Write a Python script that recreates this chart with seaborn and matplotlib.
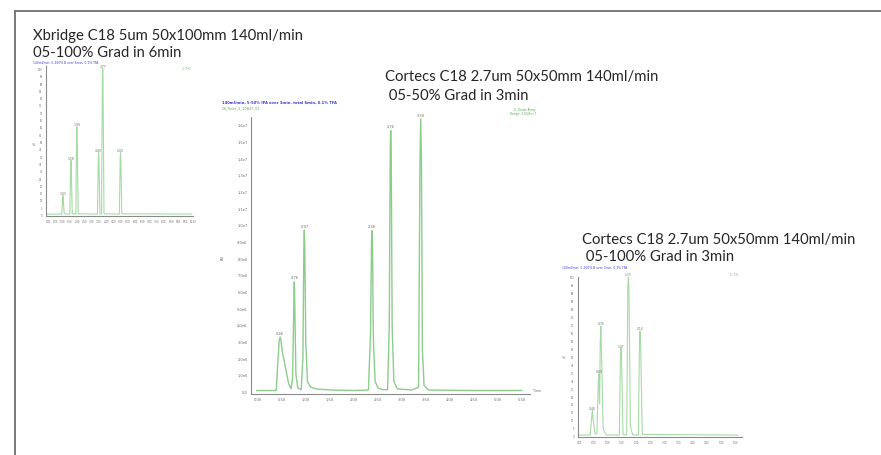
import matplotlib
matplotlib.use("Agg")
import matplotlib.pyplot as plt
import seaborn as sns
import pandas as pd
from matplotlib.lines import Line2D

# ---------------- data ----------------
# Panel 1: Xbridge C18, 05-100% in 6 min (time in min, intensity in %)
t1 = [-0.05, 0.95, 1.01, 1.03, 1.05, 1.12, 1.50, 1.56, 1.58, 1.60, 1.67,
      1.92, 1.97, 1.99, 2.01, 2.08, 3.41, 3.47, 3.49, 3.51, 3.58,
      3.69, 3.75, 3.77, 3.79, 3.86, 4.92, 4.98, 5.00, 5.02, 5.09, 9.9]
i1 = [0.3, 0.3, 10, 13, 10, 0.5, 0.3, 33, 37, 33, 0.5,
      0.3, 55, 60, 55, 0.5, 0.3, 39, 42.5, 39, 0.5,
      0.3, 95, 100, 95, 0.5, 0.3, 39, 42.5, 39, 0.5, 0.3]
peak_t1 = [1.03, 1.58, 1.99, 3.49, 3.77, 5.00]
peak_h1 = [13, 37, 60, 42.5, 100, 42.5]
peak_lab1 = ["1.03", "1.58", "1.99", "3.49", "3.77", "5.00"]

# Panel 2: Cortecs C18, 05-50% in 3 min (intensity x1e6)
t2 = [-0.03, 0.38, 0.41, 0.44, 0.46, 0.48, 0.51, 0.55, 0.60, 0.64, 0.69,
      0.72, 0.745, 0.756, 0.767, 0.79, 0.83, 0.90, 0.935, 0.955, 0.965,
      0.975, 0.995, 1.03, 1.10, 1.20, 1.50, 2.00, 2.30, 2.345, 2.365,
      2.375, 2.385, 2.405, 2.44, 2.50, 2.60, 2.70, 2.735, 2.755, 2.765,
      2.775, 2.795, 2.83, 2.90, 3.20, 3.345, 3.375, 3.39, 3.405, 3.425,
      3.46, 3.55, 4.5, 5.5]
i2 = [0.05, 0.05, 1.6, 3.0, 3.26, 3.0, 2.3, 1.8, 1.0, 0.45, 0.15,
      0.8, 5.0, 6.58, 5.0, 1.0, 0.2, 0.1, 2.0, 8.5, 9.69,
      8.5, 3.0, 0.6, 0.25, 0.15, 0.08, 0.05, 0.08, 3.5, 9.0,
      9.65, 8.8, 3.0, 0.6, 0.2, 0.1, 0.1, 4.0, 14.5, 15.66,
      14.5, 4.0, 0.6, 0.15, 0.08, 0.25, 14.0, 16.36, 14.0, 2.5,
      0.35, 0.08, 0.05, 0.05]
peak_t2 = [0.46, 0.756, 0.965, 2.375, 2.765, 3.39]
peak_h2 = [3.26, 6.58, 9.69, 9.65, 15.66, 16.36]
peak_lab2 = ["0.46", "0.76", "0.97", "2.38", "2.76", "3.39"]

# Panel 3: Cortecs C18, 05-100% in 3 min (intensity in %)
t3 = [-0.03, 0.38, 0.44, 0.46, 0.49, 0.55, 0.62, 0.67, 0.69, 0.715, 0.74,
      0.76, 0.78, 0.84, 0.95, 1.41, 1.45, 1.47, 1.49, 1.54, 1.67, 1.71,
      1.73, 1.75, 1.80, 1.88, 2.08, 2.12, 2.14, 2.16, 2.22, 5.6]
i3 = [0.4, 0.4, 12, 16, 10, 1.5, 1.0, 35, 39, 20, 60,
      69, 55, 4, 0.5, 0.4, 50, 55, 48, 0.8, 0.4, 94,
      100, 92, 6, 0.5, 0.4, 60, 66, 58, 0.8, 0.4]
peak_t3 = [0.46, 0.69, 0.76, 1.47, 1.73, 2.14]
peak_h3 = [16, 39, 69, 55, 100, 66]
peak_lab3 = ["0.46", "0.69", "0.76", "1.47", "1.73", "2.14"]

title1 = ["Xbridge C18 5um 50x100mm 140ml/min", "05-100% Grad in 6min"]
title2 = ["Cortecs C18 2.7um 50x50mm 140ml/min", " 05-50% Grad in 3min"]
title3 = ["Cortecs C18 2.7um 50x50mm 140ml/min", " 05-100% Grad in 3min"]

xt1 = [i * 0.5 for i in range(21)]
yt1 = [i * 5 for i in range(21)]
xt2 = [i * 0.5 for i in range(12)]
yt2 = list(range(17))
yt2_lab = ["0.0"] + [f"{v:.1f}e6" for v in range(1, 10)] + [f"{v/10:.1f}e7" for v in range(10, 17)]
xt3 = [i * 0.5 for i in range(12)]
yt3 = [i * 5 for i in range(21)]

# ---------------- figure ----------------
W, H = 881, 456
sns.set_style("white")
plt.rcParams["font.family"] = ["DejaVu Sans"]
fig = plt.figure(figsize=(W / 100, H / 100), dpi=100)
fig.patch.set_facecolor("white")

# frame
fig.add_artist(Line2D([15 / W, 1.0], [1 - 12 / H, 1 - 12 / H], color="#6e6e6e", lw=1.3))
fig.add_artist(Line2D([15 / W, 15 / W], [1 - 12 / H, 0.0], color="#6e6e6e", lw=1.3))


def add_ax(l, t, r, b):
    return fig.add_axes([l / W, 1 - b / H, (r - l) / W, (b - t) / H])


def style(ax, tick_fs):
    for s in ["top", "right"]:
        ax.spines[s].set_visible(False)
    for s in ["left", "bottom"]:
        ax.spines[s].set_color("#8a8a8a")
        ax.spines[s].set_linewidth(0.8)
    ax.tick_params(axis="both", which="both", direction="out", length=1.5,
                   width=0.5, color="#8a8a8a", labelsize=tick_fs,
                   labelcolor="#6a6a6a", pad=1.0)
    ax.set_facecolor("none")
    ax.set_xlabel("")
    ax.set_ylabel("")


def chrom(ax, t, y, pt, ph, plab, color, lw, lab_fs, off):
    df = pd.DataFrame({"t": t, "y": y})
    sns.lineplot(data=df, x="t", y="y", ax=ax, color=color, lw=lw,
                 estimator=None, sort=False, legend=False)
    for x, h, s in zip(pt, ph, plab):
        ax.text(x, h + off, s, fontsize=lab_fs, color="#6a6a6a",
                ha="center", va="bottom", clip_on=False)
    for ln in ax.lines:
        ln.set_clip_on(False)


def titles(lines, x, y, dy):
    for k, s in enumerate(lines):
        fig.text(x / W, 1 - (y + k * dy) / H, s, fontsize=10.7, color="#262626",
                 family=["Lato", "DejaVu Sans"], ha="left", va="center")


# Panel 1
ax1 = add_ax(46, 67, 193, 217)
chrom(ax1, t1, i1, peak_t1, peak_h1, peak_lab1, "#a6dba6", 0.8, 2.2, 0.5)
ax1.set_xlim(-0.14, 9.93)
ax1.set_ylim(-1.0, 101.7)
ax1.set_xticks(xt1)
ax1.set_xticklabels([f"{v:.2f}" for v in xt1])
ax1.set_yticks(yt1)
ax1.set_yticklabels([str(v) for v in yt1])
style(ax1, 1.8)
titles(title1, 33, 36, 17)
fig.text(33 / W, 1 - 63.5 / H, "140ml/min, 5-100% B over 6min, 0.1% TFA", fontsize=2.2,
         color="#3b3bdd", ha="left", va="center")
fig.text(190 / W, 1 - 69 / H, "1: TIC", fontsize=2.2, color="#55aa55", ha="right", va="center")
fig.text(33 / W, 1 - 145 / H, "%", fontsize=2.5, color="#6a6a6a", ha="center", va="center")

# Panel 2
ax2 = add_ax(251, 118, 530, 395)
chrom(ax2, t2, i2, peak_t2, peak_h2, peak_lab2, "#8dcc8d", 1.0, 2.6, 0.15)
ax2.set_xlim(-0.146, 5.667)
ax2.set_ylim(-0.16, 16.48)
ax2.set_xticks(xt2)
ax2.set_xticklabels([f"{v:.2f}" for v in xt2])
ax2.set_yticks(yt2)
ax2.set_yticklabels(yt2_lab)
style(ax2, 2.6)
titles(title2, 385, 77, 19)
fig.text(222 / W, 1 - 103 / H, "140ml/min, 5-50% IPA over 3min, total 6min, 0.1% TFA",
         fontsize=2.7, color="#3b3bdd", ha="left", va="center", weight="bold")
fig.text(222 / W, 1 - 108.5 / H, "CS_Tests_2_10847_01", fontsize=2.5,
         color="#55aa55", ha="left", va="center")
fig.text(536 / W, 1 - 112 / H, "2: Diode Array\nRange: 1.658e+7", fontsize=2.2,
         color="#55aa55", ha="right", va="center", linespacing=1.0)
fig.text(223 / W, 1 - 257 / H, "AU", fontsize=2.6, color="#6a6a6a",
         ha="center", va="center", rotation=90)
fig.text(533 / W, 1 - 391 / H, "Time", fontsize=2.4, color="#6a6a6a",
         ha="left", va="center")

# Panel 3
ax3 = add_ax(577.7, 278, 741.7, 437.5)
chrom(ax3, t3, i3, peak_t3, peak_h3, peak_lab3, "#a6dba6", 0.8, 2.2, 0.5)
ax3.set_xlim(-0.056, 5.72)
ax3.set_ylim(-0.5, 99.4)
ax3.set_xticks(xt3)
ax3.set_xticklabels([f"{v:.2f}" for v in xt3])
ax3.set_yticks(yt3)
ax3.set_yticklabels([str(v) for v in yt3])
style(ax3, 1.8)
titles(title3, 582, 240, 17)
fig.text(562 / W, 1 - 268.5 / H, "140ml/min, 5-100% B over 3min, 0.1% TFA", fontsize=2.2,
         color="#3b3bdd", ha="left", va="center")
fig.text(738 / W, 1 - 275 / H, "1: TIC", fontsize=2.2, color="#55aa55", ha="right", va="center")
fig.text(563 / W, 1 - 358 / H, "%", fontsize=2.5, color="#6a6a6a", ha="center", va="center")

fig.savefig("out.png", dpi=100, facecolor="white")
